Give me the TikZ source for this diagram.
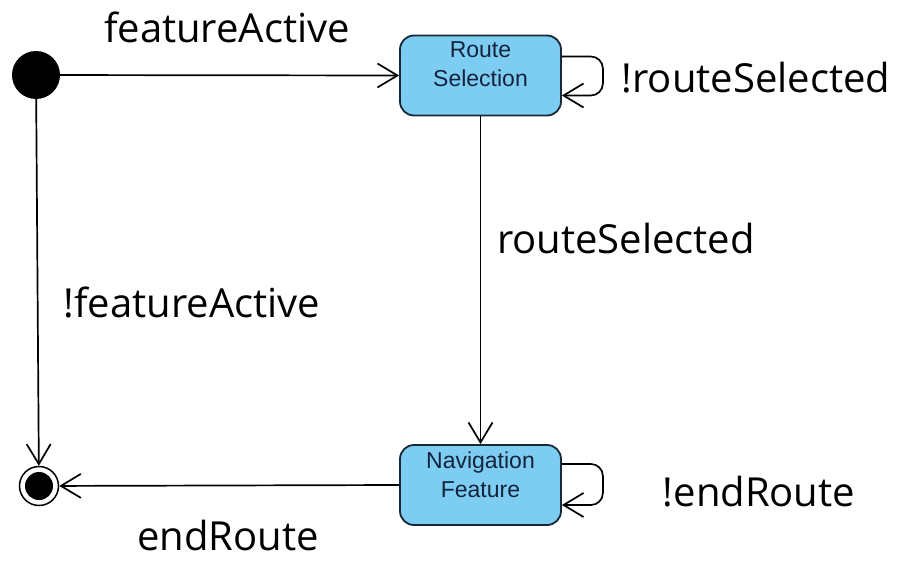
\documentclass[tikz,border=0pt]{standalone}
\usepackage{fontspec}
\setmainfont{Open Sans}
\newfontfamily\boxfont{Liberation Sans}
\usetikzlibrary{arrows.meta}
\definecolor{statefill}{RGB}{125,205,243}
\definecolor{stateline}{RGB}{25,40,55}
\definecolor{statetext}{RGB}{20,35,60}
\tikzset{
  state/.style={draw=stateline, line width=1.8pt, fill=statefill, rounded corners=14pt,
    minimum width=161pt, minimum height=80pt, inner sep=0pt},
  statelabel/.style={align=center, text=statetext, inner sep=0pt,
    font=\boxfont\fontsize{23}{29}\selectfont},
  trans/.style={draw=black, line width=1.7pt, -{Straight Barb[length=20pt,width=24pt,line width=1.7pt]}},
  lbl/.style={font=\fontsize{40}{46}\selectfont, inner sep=0pt, anchor=base}
}
\begin{document}
\begin{tikzpicture}[x=1pt,y=-1pt]
  \useasboundingbox (0,0) rectangle (898,562);
  \fill[white] (0,0) rectangle (898,562);
  % initial and final pseudo-states
  \node[circle, fill=black, minimum size=48pt, inner sep=0pt] (init) at (36,75) {};
  \node[circle, draw=black, line width=1.5pt, fill=white, minimum size=39pt, inner sep=0pt] (final) at (39,486) {};
  \fill[black] (final.center) circle (14pt);
  % states
  \node[state] (route) at (480.5,75.5) {};
  \node[statelabel] (routetxt) at ([yshift=11pt]route.center) {Route\\Selection};
  \node[state] (nav) at (480.5,485) {};
  \node[statelabel] (navtxt) at ([yshift=10pt]nav.center) {Navigation\\Feature};
  % transitions
  \draw[trans] (init) -- (route.west);
  \draw[trans] (init) -- (final);
  \draw[trans] (route.south) -- (nav.north);
  \draw[trans] (nav.west) -- (final);
  \draw[trans, rounded corners=12pt] ([yshift=19pt]route.east) -- ++(41,0) -- ++(0,39) -- ([yshift=-20pt]route.east);
  \draw[trans, rounded corners=12pt] ([yshift=21pt]nav.east) -- ++(41,0) -- ++(0,41) -- ([yshift=-20pt]nav.east);
  % labels
  \node[lbl] (l1) at (227,42) {featureActive};
  \node[lbl] (l2) at (756,92) {!routeSelected};
  \node[lbl] (l3) at (626,253) {routeSelected};
  \node[lbl] (l4) at (192,317) {!featureActive};
  \node[lbl] (l5) at (759,506) {!endRoute};
  \node[lbl] (l6) at (228,550) {endRoute};
\end{tikzpicture}
\end{document}
